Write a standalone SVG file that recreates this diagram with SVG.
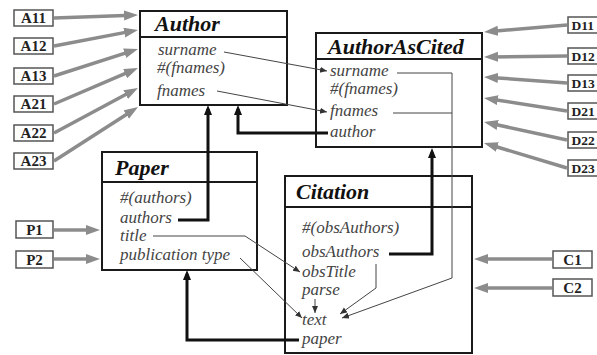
<svg xmlns="http://www.w3.org/2000/svg" width="597" height="355" viewBox="0 0 597 355">
<style>
.box{fill:#fff;stroke:#1a1a1a;stroke-width:2}
.title{font-family:"Liberation Serif",serif;font-weight:bold;font-style:italic;font-size:22px;fill:#111}
.attr{font-family:"Liberation Serif",serif;font-style:italic;font-size:17px;fill:#444}
.ext{fill:#fff;stroke:#555;stroke-width:1.5}
.extt{font-family:"Liberation Serif",serif;font-weight:bold;font-size:15px;fill:#222}
.extd{font-family:"Liberation Serif",serif;font-weight:bold;font-size:13.5px;fill:#222}
.gray{stroke:#8c8c8c;stroke-width:3.5;fill:none;marker-end:url(#ga)}
.thick{stroke:#111;stroke-width:3;fill:none;marker-end:url(#ba)}
.thin{stroke:#444;stroke-width:1;fill:none;marker-end:url(#ta)}
</style>
<defs>
<marker id="ga" markerUnits="userSpaceOnUse" markerWidth="16" markerHeight="12" refX="8" refY="5" orient="auto"><path d="M0,0 L14,5 L0,10 z" fill="#8c8c8c"/></marker>
<marker id="ba" markerUnits="userSpaceOnUse" markerWidth="12" markerHeight="10" refX="6" refY="4" orient="auto"><path d="M0,0 L10,4 L0,8 z" fill="#111"/></marker>
<marker id="ta" markerUnits="userSpaceOnUse" markerWidth="9" markerHeight="8" refX="7" refY="3" orient="auto"><path d="M0,0 L7,3 L0,6 z" fill="#333"/></marker>
</defs>
<rect width="597" height="355" fill="#fff"/>

<g id="A11"><rect class="ext" x="14" y="10" width="39" height="16"/><text class="extt" x="33.5" y="23" text-anchor="middle">A11</text></g>
<g id="A12"><rect class="ext" x="14" y="38" width="39" height="16"/><text class="extt" x="33.5" y="51" text-anchor="middle">A12</text></g>
<g id="A13"><rect class="ext" x="14" y="68" width="39" height="16"/><text class="extt" x="33.5" y="81" text-anchor="middle">A13</text></g>
<g id="A21"><rect class="ext" x="14" y="96" width="39" height="16"/><text class="extt" x="33.5" y="109" text-anchor="middle">A21</text></g>
<g id="A22"><rect class="ext" x="14" y="125" width="39" height="16"/><text class="extt" x="33.5" y="138" text-anchor="middle">A22</text></g>
<g id="A23"><rect class="ext" x="14" y="153" width="39" height="16"/><text class="extt" x="33.5" y="166" text-anchor="middle">A23</text></g>

<g id="D11"><rect class="ext" x="568" y="17" width="40" height="16"/><text class="extd" x="571.5" y="30">D11</text></g>
<g id="D12"><rect class="ext" x="568" y="48" width="40" height="16"/><text class="extd" x="571.5" y="61">D12</text></g>
<g id="D13"><rect class="ext" x="568" y="75" width="40" height="16"/><text class="extd" x="571.5" y="88">D13</text></g>
<g id="D21"><rect class="ext" x="568" y="103" width="40" height="16"/><text class="extd" x="571.5" y="116">D21</text></g>
<g id="D22"><rect class="ext" x="568" y="132" width="40" height="16"/><text class="extd" x="571.5" y="145">D22</text></g>
<g id="D23"><rect class="ext" x="568" y="160" width="40" height="16"/><text class="extd" x="571.5" y="173">D23</text></g>

<g id="P1"><rect class="ext" x="16" y="221" width="37" height="17"/><text class="extt" x="34.5" y="234.5" text-anchor="middle">P1</text></g>
<g id="P2"><rect class="ext" x="16" y="251" width="37" height="17"/><text class="extt" x="34.5" y="264.5" text-anchor="middle">P2</text></g>
<g id="C1"><rect class="ext" x="553" y="251" width="39" height="17"/><text class="extt" x="572.5" y="264.5" text-anchor="middle">C1</text></g>
<g id="C2"><rect class="ext" x="553" y="279" width="39" height="17"/><text class="extt" x="572.5" y="292.5" text-anchor="middle">C2</text></g>

<g id="Author">
<rect class="box" x="140" y="11" width="147" height="94"/>
<line x1="140" y1="37" x2="287" y2="37" stroke="#1a1a1a" stroke-width="2"/>
<text class="title" x="155" y="31">Author</text>
<text class="attr" x="158" y="55">surname</text>
<text class="attr" x="157" y="73">#(fnames)</text>
<text class="attr" x="157" y="96">fnames</text>
</g>

<g id="AuthorAsCited">
<rect class="box" x="316" y="33" width="166" height="114"/>
<line x1="316" y1="59" x2="482" y2="59" stroke="#1a1a1a" stroke-width="2"/>
<text class="title" x="328" y="54">AuthorAsCited</text>
<text class="attr" x="330" y="76">surname</text>
<text class="attr" x="330" y="94">#(fnames)</text>
<text class="attr" x="330" y="116">fnames</text>
<text class="attr" x="330" y="137">author</text>
</g>

<g id="Paper">
<rect class="box" x="102" y="152" width="155" height="118"/>
<line x1="102" y1="182" x2="257" y2="182" stroke="#1a1a1a" stroke-width="2"/>
<text class="title" x="115" y="175">Paper</text>
<text class="attr" x="120" y="203">#(authors)</text>
<text class="attr" x="120" y="223">authors</text>
<text class="attr" x="120" y="241">title</text>
<text class="attr" x="120" y="260">publication type</text>
</g>

<g id="Citation">
<rect class="box" x="285" y="176" width="187" height="177"/>
<line x1="285" y1="207" x2="472" y2="207" stroke="#1a1a1a" stroke-width="2"/>
<text class="title" x="296" y="199">Citation</text>
<text class="attr" x="302" y="233">#(obsAuthors)</text>
<text class="attr" x="302" y="257">obsAuthors</text>
<text class="attr" x="302" y="277">obsTitle</text>
<text class="attr" x="302" y="295">parse</text>
<text class="attr" x="302" y="325">text</text>
<text class="attr" x="302" y="344">paper</text>
</g>

<g id="connectors">
<path class="gray" d="M54,18 L132,15.2"/>
<path class="gray" d="M54,46 L132.1,31.1"/>
<path class="gray" d="M54,76 L132.3,50.8"/>
<path class="gray" d="M54,104 L132.5,70.4"/>
<path class="gray" d="M54,133 L132.7,90.8"/>
<path class="gray" d="M54,161 L133,110.2"/>
<path class="gray" d="M567,25 L490,31.5"/>
<path class="gray" d="M567,56 L490,56.9"/>
<path class="gray" d="M567,83 L490,77.4"/>
<path class="gray" d="M567,111 L489.9,98.9"/>
<path class="gray" d="M567,140 L489.9,123.3"/>
<path class="gray" d="M567,168 L489.7,144.7"/>
<path class="gray" d="M54,230 L94,230"/>
<path class="gray" d="M54,259 L94,259"/>
<path class="gray" d="M552,259 L480,259"/>
<path class="gray" d="M552,288 L480,288"/>

<path class="thick" d="M178,220 H208 V109"/>
<path class="thick" d="M328,133 H238 V109"/>
<path class="thick" d="M389,254 H432 V152"/>
<path class="thick" d="M299,340 H187 V274"/>

<path class="thin" d="M224,52 L327,71"/>
<path class="thin" d="M217,91 L327,112"/>
<path class="thin" d="M153,236 H245 L300,272"/>
<path class="thin" d="M240,258 L302,318" stroke="#777"/>
<path class="thin" d="M315,299 V313" stroke-width="1.5"/>
<path class="thin" d="M376,264 V288 L340,314"/>
<path class="thin" d="M397,73 H452 V278 L342,318"/>
<path d="M393,113 H452" stroke="#444" stroke-width="1" fill="none"/>
</g>
</svg>
